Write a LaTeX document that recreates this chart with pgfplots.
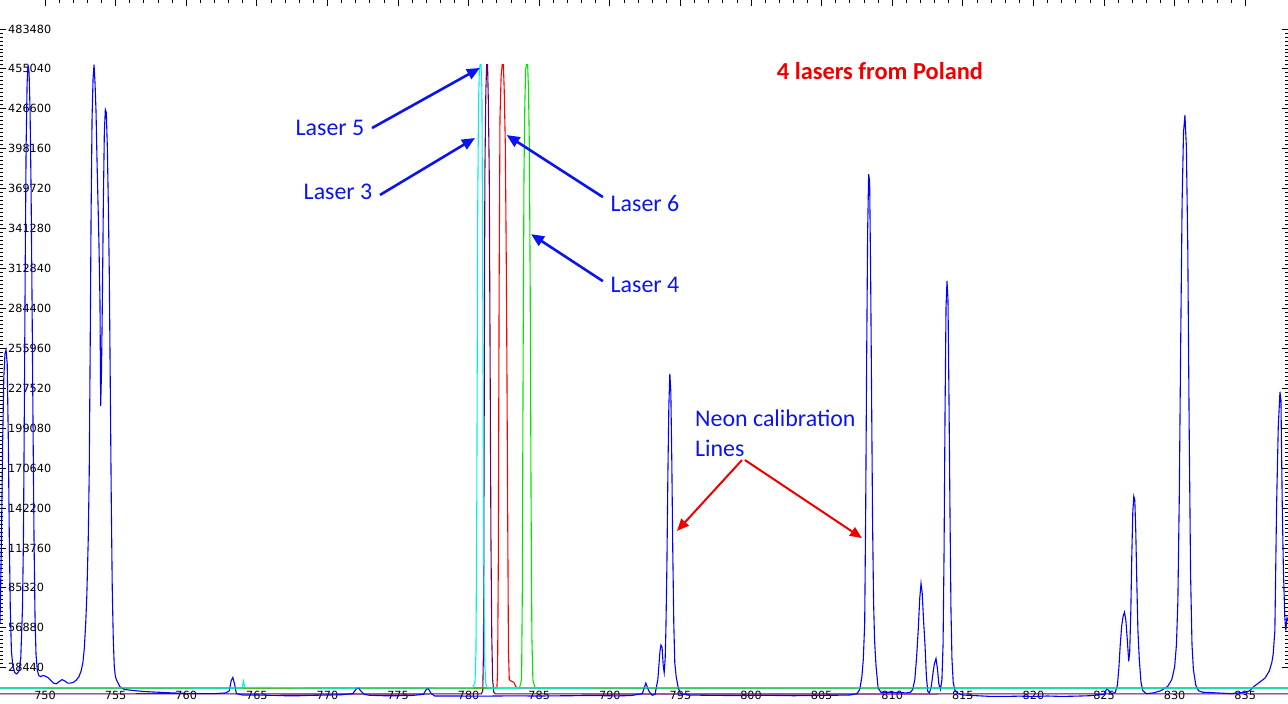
\documentclass[border=0pt]{standalone}
\usepackage{pgfplots}
\pgfplotsset{compat=1.18}
\usepackage{fontspec}
\setmainfont{Carlito}
\newfontfamily\tickfont{DejaVu Sans}
\usetikzlibrary{arrows.meta}
\definecolor{sblue}{RGB}{0,0,255}
\definecolor{scyan}{RGB}{0,240,240}
\definecolor{sred}{RGB}{255,0,0}
\definecolor{sgreen}{RGB}{0,230,0}
\definecolor{spurple}{RGB}{100,0,100}
\definecolor{tblue}{RGB}{10,20,240}
\definecolor{tred}{RGB}{240,0,0}
\begin{document}
\begin{tikzpicture}
\begin{axis}[name=ax, scale only axis, width=1288bp, height=703bp,
  xmin=746.81, xmax=838.03, ymin=3300, ymax=504100,
  axis line style={draw=none},
  tick align=inside,
  xtick={750,755,760,765,770,775,780,785,790,795,800,805,810,815,820,825,830,835},
  xticklabels={750,755,760,765,770,775,780,785,790,795,800,805,810,815,820,825,830,835},
  xtick pos=upper, xticklabel pos=lower,
  minor x tick num=4,
  ytick={28440,56880,85320,113760,142200,170640,199080,227520,255960,284400,312840,341280,369720,398160,426600,455040,483480},
  yticklabels={28440,56880,85320,113760,142200,170640,199080,227520,255960,284400,312840,341280,369720,398160,426600,455040,483480},
  minor y tick num=9,
  major tick length=6bp, minor tick length=3bp,
  tick style={black, line width=0.8bp},
  yticklabel style={anchor=west, xshift=8bp, inner sep=0pt, font=\tickfont\fontsize{11.3}{12}\selectfont},
  xticklabel style={anchor=base, yshift=3.3bp, font=\tickfont\fontsize{11.3}{12}\selectfont},
  every axis plot/.append style={line width=1.1bp, mark=none},
]
% purple (Laser 3)
\addplot[spurple] coordinates {
(746.81,9800) (760,9900) (770,9700) (780.90,9800) (781.00,12000) (781.05,40000) (781.10,200000) (781.15,380000) (781.22,440000) (781.28,458000) (781.34,458000) (781.40,430000) (781.46,380000) (781.52,250000) (781.58,120000) (781.64,50000) (781.70,20000) (781.78,11000) (781.9,9800) (800,9700) (820,9800) (838.03,9800)
};
% red (Laser 6)
\addplot[sred] coordinates {
(746.81,14000) (770,14000) (782.00,14000) (782.05,25000) (782.10,100000) (782.16,300000) (782.22,420000) (782.30,450000) (782.38,458000) (782.46,458000) (782.52,440000) (782.60,400000) (782.68,300000) (782.76,150000) (782.82,40000) (782.88,20000) (783.00,19000) (783.20,18000) (783.40,14000) (800,14000) (838.03,14000)
};
% green (Laser 4)
\addplot[sgreen] coordinates {
(746.81,14000) (770,14000) (783.60,14000) (783.75,20000) (783.80,80000) (783.86,250000) (783.92,380000) (783.98,430000) (784.04,455000) (784.10,458000) (784.18,458000) (784.24,440000) (784.30,400000) (784.36,300000) (784.42,150000) (784.48,50000) (784.55,20000) (784.70,14000) (800,14000) (838.03,14000)
};
% blue (neon spectrum)
\addplot[sblue] coordinates {
(746.81,60000) (746.90,110000) (747.00,190000) (747.08,235000) (747.16,252000) (747.24,255000) (747.32,245000) (747.40,190000) (747.47,120000) (747.54,70000) (747.62,40000) (747.72,30000) (747.85,25000) (748.00,24000) (748.15,26000) (748.28,35000) (748.40,70000) (748.47,120000) (748.54,220000) (748.60,320000) (748.66,400000) (748.73,445000) (748.80,458000) (748.87,452000) (748.94,425000) (749.01,370000) (749.08,290000) (749.15,200000) (749.22,120000) (749.29,65000) (749.36,38000) (749.45,27000) (749.55,23000) (749.70,22000) (749.85,23000) (750.00,22500) (750.20,21500) (750.40,19500) (750.60,17500) (750.80,17000) (751.00,18500) (751.20,20000) (751.40,19000) (751.60,17500) (751.80,17500) (752.00,18000) (752.20,19500) (752.40,22000) (752.55,26000) (752.68,32000) (752.78,42000) (752.88,60000) (752.96,80000) (753.06,120000) (753.13,167000) (753.20,260000) (753.26,350000) (753.33,420000) (753.40,448000) (753.47,458000) (753.54,445000) (753.61,425000) (753.68,390000) (753.75,360000) (753.82,330000) (753.89,290000) (753.94,215000) (754.00,240000) (754.06,290000) (754.13,360000) (754.20,410000) (754.27,426000) (754.34,424000) (754.41,400000) (754.48,360000) (754.55,310000) (754.62,230000) (754.69,148000) (754.76,85000) (754.83,50000) (754.90,30000) (754.97,23000) (755.05,20000) (755.30,15000) (755.60,13000) (756.00,12500) (756.50,12000) (757.00,11500) (758.00,11000) (759.00,10500) (760.00,10200) (761.00,10000) (762.00,10000) (762.80,10500) (763.05,12000) (763.18,19000) (763.30,21500) (763.42,17000) (763.55,10000) (764.00,9000) (765.00,9000) (766.00,8800) (767.00,8500) (768.00,8500) (769.00,8800) (770.00,9000) (771.00,9200) (771.80,10000) (772.05,13500) (772.20,14200) (772.35,12000) (772.60,9500) (773.00,8800) (774.00,8500) (775.00,8500) (776.00,8700) (776.80,9500) (777.00,13000) (777.15,13500) (777.35,10000) (777.60,8300) (779.00,8300) (781.00,8200) (783.00,8400) (785.00,8300) (787.00,8500) (789.00,8600) (790.50,8400) (791.50,8600) (792.30,10000) (792.55,17500) (792.75,12000) (793.00,8800) (793.20,9500) (793.40,20000) (793.55,40000) (793.62,44600) (793.70,43000) (793.78,30000) (793.85,25000) (793.92,35000) (793.97,55000) (794.04,100000) (794.11,165000) (794.18,215000) (794.25,238000) (794.32,225000) (794.39,175000) (794.46,110000) (794.53,60000) (794.60,32000) (794.70,22000) (794.85,14000) (795.00,10000) (795.50,9000) (797.00,8800) (799.00,8600) (801.00,8800) (803.00,8500) (805.00,8700) (807.00,9000) (807.50,10000) (807.70,13000) (807.85,22000) (807.95,34000) (808.05,60000) (808.12,140000) (808.19,250000) (808.26,340000) (808.33,380000) (808.40,375000) (808.47,310000) (808.54,220000) (808.61,130000) (808.68,75000) (808.75,48000) (808.85,30000) (809.00,14000) (809.20,11000) (810.00,11000) (811.00,10500) (811.30,11000) (811.45,13000) (811.60,20000) (811.72,35000) (811.84,55000) (811.95,78000) (812.04,88500) (812.12,82000) (812.22,62000) (812.32,45000) (812.42,22000) (812.52,11500) (812.62,10500) (812.75,14000) (812.88,24000) (812.98,31000) (813.10,35000) (813.20,28000) (813.30,17000) (813.42,13000) (813.52,20000) (813.60,45000) (813.67,110000) (813.74,210000) (813.81,285000) (813.88,304000) (813.95,290000) (814.02,220000) (814.09,140000) (814.16,70000) (814.23,35000) (814.32,18000) (814.45,12000) (814.70,10000) (815.00,9000) (816.00,8500) (817.00,8000) (818.00,8000) (819.00,8200) (820.00,8000) (821.00,8300) (822.00,8000) (823.00,8200) (824.00,8500) (825.00,9500) (825.20,13500) (825.35,12000) (825.55,10000) (825.80,11000) (825.95,16000) (826.05,28000) (826.15,45000) (826.25,58000) (826.35,65000) (826.45,68000) (826.55,62000) (826.65,48000) (826.75,33000) (826.82,40000) (826.90,70000) (826.97,110000) (827.04,140000) (827.11,150500) (827.18,148000) (827.25,125000) (827.32,90000) (827.40,55000) (827.50,34000) (827.62,18000) (827.75,12000) (828.00,10000) (828.50,10500) (829.00,12000) (829.50,15000) (829.80,20000) (830.00,29000) (830.13,45000) (830.23,76000) (830.33,150000) (830.43,260000) (830.53,360000) (830.63,410000) (830.73,422000) (830.83,400000) (830.93,330000) (831.03,200000) (831.13,95000) (831.23,45000) (831.33,27000) (831.50,16000) (831.70,12000) (832.00,11000) (833.00,10500) (834.00,10000) (835.00,11000) (835.30,12000) (835.60,15000) (836.00,18000) (836.40,21000) (836.70,26000) (836.88,32000) (836.98,38000) (837.10,55000) (837.22,143000) (837.34,200000) (837.46,225000) (837.53,219000) (837.62,146000) (837.70,100000) (837.80,65000) (837.87,55000) (837.96,64000) (838.03,62000)
};
% cyan (Laser 5)
\addplot[scyan] coordinates {
(746.81,14000) (755,14100) (763.95,14000) (764.05,19000) (764.15,14500) (770,14000) (780.30,14200) (780.45,18000) (780.52,40000) (780.58,150000) (780.64,350000) (780.70,430000) (780.76,455000) (780.82,458000) (780.88,458000) (780.94,440000) (781.00,300000) (781.06,120000) (781.12,40000) (781.20,18000) (781.30,14000) (800,14100) (820,14000) (838.03,14000)
};
% annotations
\begin{scope}[font=\fontsize{24}{29}\selectfont]
\node[tblue] at (axis cs:770.18,412900) {Laser 5};
\node[tblue] at (axis cs:770.75,367300) {Laser 3};
\node[tblue] at (axis cs:792.49,359400) {Laser 6};
\node[tblue] at (axis cs:792.49,301000) {Laser 4};
\node[tred, font=\fontsize{24.5}{29}\selectfont\bfseries] at (axis cs:809.13,453500) {4 lasers from Poland};
\node[tblue, anchor=west, inner sep=0pt] at (axis cs:796.03,206300) {Neon calibration};
\node[tblue, anchor=west, inner sep=0pt] at (axis cs:796.03,184900) {Lines};
\end{scope}
\begin{scope}[tblue, line width=2.6bp, -{Triangle[length=13bp,width=11bp]}]
\draw (axis cs:773.16,412900) -- (axis cs:780.80,455700);
\draw (axis cs:773.72,365200) -- (axis cs:780.45,405800);
\draw (axis cs:789.51,363700) -- (axis cs:782.69,407900);
\draw (axis cs:789.51,303800) -- (axis cs:784.42,337300);
\end{scope}
\begin{scope}[tred, line width=2bp, -{Triangle[length=12bp,width=10bp]}]
\draw (axis cs:799.36,176400) -- (axis cs:794.76,125900);
\draw (axis cs:799.57,176400) -- (axis cs:807.86,120800);
\end{scope}
\end{axis}
\pgfresetboundingbox
\useasboundingbox (ax.south west) rectangle (ax.north east);
\end{tikzpicture}
\end{document}
